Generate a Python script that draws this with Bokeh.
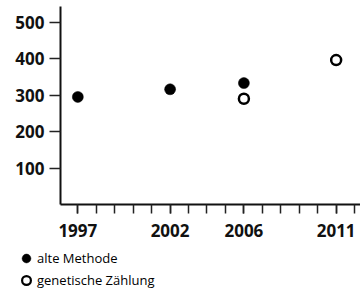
from bokeh.plotting import figure
from bokeh.models import FixedTicker, Range1d, Legend, LegendItem
from bokeh.layouts import column, row
from bokeh.embed import file_html
from bokeh.resources import INLINE

# data
years_alt = [1997, 2002, 2006]
values_alt = [295, 316, 333]
years_gen = [2006, 2011]
values_gen = [290, 396]
x_tick_labels = [1997, 2002, 2006, 2011]
x_minor = list(range(1996, 2013))
y_ticks = [100, 200, 300, 400, 500]
label_alt = "alte Methode"
label_gen = "genetische Zählung"

p = figure(width=360, height=249, output_backend="svg", toolbar_location=None,
           x_range=Range1d(1996.06, 2012.32), y_range=Range1d(0, 543),
           min_border_left=60, min_border_right=0, min_border_top=6, min_border_bottom=45)
p.outline_line_color = None
p.xgrid.visible = False
p.ygrid.visible = False
p.background_fill_color = "white"
p.border_fill_color = "white"

alt_style = dict(marker="circle", fill_color="black", line_color="black", line_width=0.5)
gen_style = dict(marker="circle", fill_color="white", line_color="black", line_width=2.5)

p.scatter(years_alt, values_alt, size=11, **alt_style)
p.scatter(years_gen, values_gen, size=10, **gen_style)

for ax in (p.xaxis[0], p.yaxis[0]):
    ax.axis_line_width = 2
    ax.axis_line_color = "#111111"
    ax.major_tick_line_color = "#222222"
    ax.major_tick_line_width = 1.5
    ax.major_tick_in = 0
    ax.major_label_text_font = "Open Sans"
    ax.major_label_text_font_style = "bold"
    ax.major_label_text_font_size = "17px"
    ax.major_label_text_color = "#111111"

p.xaxis.ticker = FixedTicker(ticks=x_tick_labels, minor_ticks=x_minor)
p.xaxis.major_tick_out = 9
p.xaxis.minor_tick_out = 9
p.xaxis.minor_tick_in = 0
p.xaxis.minor_tick_line_color = "#222222"
p.xaxis.minor_tick_line_width = 1.5
p.xaxis.major_label_standoff = 10

p.yaxis.ticker = FixedTicker(ticks=y_ticks, minor_ticks=[])
p.yaxis.major_tick_out = 11
p.yaxis.minor_tick_line_color = None
p.yaxis.major_label_standoff = 5

# legend strip below the chart (its series sit outside its view; only the legend shows)
lf = figure(width=360, height=40, output_backend="svg", toolbar_location=None,
            x_axis_type=None, y_axis_type=None, x_range=Range1d(0, 1), y_range=Range1d(0, 1),
            min_border_left=0, min_border_right=0, min_border_top=0, min_border_bottom=0)
lf.outline_line_color = None
lf.xgrid.visible = False
lf.ygrid.visible = False
lr1 = lf.scatter(years_alt, values_alt, size=9, **alt_style)
lr2 = lf.scatter(years_gen, values_gen, size=9, **gen_style)
lr2.glyph.line_width = 2.2
legend = Legend(items=[LegendItem(label=label_alt, renderers=[lr1]),
                       LegendItem(label=label_gen, renderers=[lr2])],
                location=(15, -2), orientation="vertical",
                glyph_width=22, glyph_height=22, spacing=-2, padding=0, margin=0,
                label_standoff=-1, label_text_font="Open Sans", label_text_font_size="13px",
                label_text_color="#000000", border_line_color=None, background_fill_alpha=0)
lf.add_layout(legend, "center")

layout = column(p, row(lf), spacing=0)
open("out.html", "w").write(file_html(layout, INLINE))
